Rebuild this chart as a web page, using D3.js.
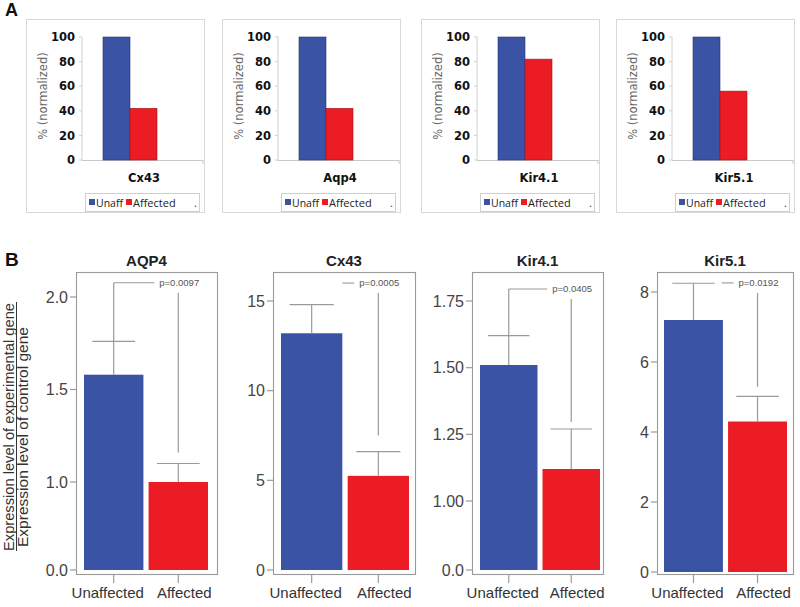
<!DOCTYPE html>
<html><head><meta charset="utf-8">
<script src="https://cdn.jsdelivr.net/npm/d3@7"></script>
<style>body{margin:0;background:#fff}svg{display:block}</style>
</head><body><svg id="c" width="800" height="607"></svg>
<script>
// ---------- DATA ----------
// Panel A
const genesA = ["Cx43", "Aqp4", "Kir4.1", "Kir5.1"];
const groupsA = ["Unaff", "Affected"];
const unaffA = [100, 100, 100, 100];
const affectedA = [42, 42, 82, 56];
const ticksA = [0, 20, 40, 60, 80, 100];

// Panel B
const genesB = ["AQP4", "Cx43", "Kir4.1", "Kir5.1"];
const groupsB = ["Unaffected", "Affected"];
const unaffMean = [1.58, 13.2, 1.51, 7.2];
const unaffUpper = [1.76, 14.8, 1.62, 8.25];
const affMean = [1.0, 5.25, 1.12, 4.3];
const affUpper = [1.10, 6.6, 1.27, 5.02];
const pLabels = ["p=0.0097", "p=0.0005", "p=0.0405", "p=0.0192"];
const bracketLevel = [2.077, 16.0, 1.795, 8.26];
const rightLegEnd = [1.16, 7.5, 1.296, 5.29];
const ticksB = [[0, 1.0, 1.5, 2.0], [0, 5, 10, 15], [0, 1.0, 1.25, 1.5, 1.75], [0, 2, 4, 6, 8]];
const tickLabelsB = [["0.0", "1.0", "1.5", "2.0"], ["0", "5", "10", "15"], ["0.0", "1.00", "1.25", "1.50", "1.75"], ["0", "2", "4", "6", "8"]];
// axis breakpoints (value domain; broken axes in AQP4 and Kir4.1)
const domainsB = [[0, 1, 2], [0, 15], [0, 1, 1.75], [0, 8]];

// ---------- LAYOUT ----------
const BLUE = "#3a53a4", RED = "#ec1c24";
const svg = d3.select("#c");
svg.append("rect").attr("width", 800).attr("height", 607).attr("fill", "#fff");

svg.append("text").attr("x", 5).attr("y", 16).text("A")
  .attr("font-family", "Liberation Sans, Arial, sans-serif").attr("font-weight", "bold").attr("font-size", 18).attr("fill", "#111");
svg.append("text").attr("x", 5).attr("y", 266).text("B")
  .attr("font-family", "Liberation Sans, Arial, sans-serif").attr("font-weight", "bold").attr("font-size", 19).attr("fill", "#111");

// Panel A
const offA = [26, 222, 421, 616];
const fA = "DejaVu Sans, Verdana, sans-serif";
const fL = "Open Sans, Noto Sans, sans-serif";
genesA.forEach((g, i) => {
  const G = svg.append("g").attr("transform", `translate(${offA[i]},0)`);
  G.append("rect").attr("x", 0.5).attr("y", 19.5).attr("width", 178).attr("height", 193)
    .attr("fill", "#fff").attr("stroke", "#d8d8d8");
  const y = d3.scaleLinear().domain([0, 100]).range([160, 37]);
  const x = d3.scaleBand().domain(groupsA).range([77, 131]).padding(0);
  G.append("line").attr("x1", 56).attr("x2", 56).attr("y1", 37).attr("y2", 160).attr("stroke", "#d0d0d0");
  G.append("line").attr("x1", 56).attr("x2", 177).attr("y1", 160.5).attr("y2", 160.5).attr("stroke", "#c8c8c8");
  G.append("line").attr("x1", 177).attr("x2", 177).attr("y1", 160).attr("y2", 164).attr("stroke", "#c8c8c8");
  ticksA.forEach(t => {
    G.append("line").attr("x1", 53).attr("x2", 56).attr("y1", y(t)).attr("y2", y(t)).attr("stroke", "#d0d0d0");
    G.append("text").attr("x", 49).attr("y", y(t)).attr("dy", "0.36em").attr("text-anchor", "end")
      .attr("font-family", fA).attr("font-weight", "bold").attr("font-size", 11.5).attr("fill", "#111").text(t);
  });
  const vals = [unaffA[i], affectedA[i]];
  G.selectAll("rect.bar").data(groupsA).enter().append("rect").attr("class", "bar")
    .attr("x", d => x(d)).attr("width", x.bandwidth())
    .attr("y", (d, j) => y(vals[j])).attr("height", (d, j) => y(0) - y(vals[j]))
    .attr("fill", (d, j) => j ? RED : BLUE)
    .attr("stroke", (d, j) => j ? "#a0141a" : "#26366e").attr("stroke-width", 0.6);
  G.append("text").attr("x", 17).attr("y", 96).attr("transform", "rotate(-90,17,96)")
    .attr("text-anchor", "middle").attr("dy", "0.35em")
    .attr("font-family", fA).attr("font-size", 11.5).attr("fill", "#666").text("% (normalized)");
  G.append("text").attr("x", 118).attr("y", 182).attr("text-anchor", "middle")
    .attr("font-family", fA).attr("font-weight", "bold").attr("font-size", 11.5).attr("fill", "#111").text(g);
  // legend
  G.append("rect").attr("x", 59.5).attr("y", 193.5).attr("width", 114).attr("height", 18)
    .attr("fill", "#fff").attr("stroke", "#cfcfcf");
  G.append("rect").attr("x", 63).attr("y", 199).attr("width", 6).attr("height", 6).attr("fill", BLUE);
  G.append("text").attr("x", 70).attr("y", 206.5).attr("font-family", fL).attr("font-size", 10.5).attr("fill", "#222").text(groupsA[0]);
  G.append("rect").attr("x", 100).attr("y", 199).attr("width", 6).attr("height", 6).attr("fill", RED);
  G.append("text").attr("x", 107).attr("y", 206.5).attr("font-family", fL).attr("font-size", 11).attr("fill", "#222").text(groupsA[1]);
  G.append("text").attr("x", 168).attr("y", 206.5).attr("font-family", fL).attr("font-size", 11).attr("fill", "#444").text(".");
});

// Panel B
const fB = "Liberation Sans, Arial, Helvetica, sans-serif";
const boxB = [[76, 217], [273, 415], [472, 603], [657, 793]];
const barRangeB = [[84, 208], [281, 409], [480, 600], [664, 787]];
const rangesB = [[570, 482, 297], [570, 301], [570, 501, 301], [572, 292]];
const boxTop = 272, boxBot = 574;
const leftLeg = [true, false, true, false];
const dashFromBlue = [true, false, true, false];
const GRAY = "#9a9a9a";

genesB.forEach((g, i) => {
  const G = svg.append("g");
  const [bl, br] = boxB[i];
  const y = d3.scaleLinear().domain(domainsB[i]).range(rangesB[i]);
  const x = d3.scaleBand().domain(groupsB).range(barRangeB[i]).paddingInner(0.08);
  const cx = d => x(d) + x.bandwidth() / 2;
  const means = [unaffMean[i], affMean[i]];
  const uppers = [unaffUpper[i], affUpper[i]];

  G.selectAll("rect.bar").data(groupsB).enter().append("rect")
    .attr("x", d => x(d)).attr("width", x.bandwidth())
    .attr("y", (d, j) => y(means[j])).attr("height", (d, j) => y(0) - y(means[j]))
    .attr("fill", (d, j) => j ? RED : BLUE);
  groupsB.forEach((d, j) => {
    G.append("line").attr("x1", cx(d)).attr("x2", cx(d)).attr("y1", y(means[j])).attr("y2", y(uppers[j]))
      .attr("stroke", GRAY).attr("stroke-width", 1.2);
    const cw = x.bandwidth() * 0.36;
    G.append("line").attr("x1", cx(d) - cw).attr("x2", cx(d) + cw).attr("y1", y(uppers[j])).attr("y2", y(uppers[j]))
      .attr("stroke", GRAY).attr("stroke-width", 1.2);
  });
  const by = y(bracketLevel[i]);
  const rx = cx(groupsB[1]);
  const tx = rx - 19;
  const lx = dashFromBlue[i] ? cx(groupsB[0]) : tx - 17;
  G.append("line").attr("x1", lx).attr("x2", tx - 5).attr("y1", by).attr("y2", by).attr("stroke", GRAY).attr("stroke-width", 1.1);
  if (leftLeg[i]) {
    G.append("line").attr("x1", cx(groupsB[0])).attr("x2", cx(groupsB[0])).attr("y1", by).attr("y2", y(unaffUpper[i]))
      .attr("stroke", GRAY).attr("stroke-width", 1.2);
  }
  G.append("line").attr("x1", rx).attr("x2", rx).attr("y1", by + 10).attr("y2", y(rightLegEnd[i]))
    .attr("stroke", GRAY).attr("stroke-width", 1.2);
  G.append("text").attr("x", tx).attr("y", by).attr("dy", "0.35em")
    .attr("font-family", fB).attr("font-size", 9.5).attr("fill", "#555").text(pLabels[i]);

  G.append("rect").attr("x", bl + 0.5).attr("y", boxTop + 0.5).attr("width", br - bl).attr("height", boxBot - boxTop)
    .attr("fill", "none").attr("stroke", GRAY).attr("stroke-width", 1.1);
  ticksB[i].forEach((t, k) => {
    G.append("line").attr("x1", bl - 6).attr("x2", bl).attr("y1", y(t)).attr("y2", y(t)).attr("stroke", GRAY).attr("stroke-width", 1.2);
    G.append("text").attr("x", bl - 8).attr("y", y(t)).attr("dy", "0.36em").attr("text-anchor", "end")
      .attr("font-family", fB).attr("font-size", 16).attr("fill", "#444").text(tickLabelsB[i][k]);
  });
  groupsB.forEach((d, j) => {
    G.append("line").attr("x1", cx(d)).attr("x2", cx(d)).attr("y1", boxBot).attr("y2", boxBot + 9).attr("stroke", GRAY).attr("stroke-width", 1.2);
    G.append("text").attr("x", cx(d) + (j ? 6 : -6)).attr("y", 598).attr("text-anchor", "middle")
      .attr("font-family", fB).attr("font-size", 15).attr("fill", "#333").text(d);
  });
  G.append("text").attr("x", (bl + br) / 2).attr("y", 266).attr("text-anchor", "middle")
    .attr("font-family", fB).attr("font-weight", "bold").attr("font-size", 15).attr("fill", "#222").text(g);
});

// Y-axis label for panel B (ratio)
const yl = svg.append("g").attr("transform", "translate(0,551) rotate(-90)");
yl.append("text").attr("x", 0).attr("y", 14).attr("font-family", fB).attr("font-size", 15).attr("fill", "#333")
  .attr("textLength", 248).attr("lengthAdjust", "spacingAndGlyphs")
  .text("Expression level of experimental gene");
yl.append("line").attr("x1", 0).attr("x2", 249).attr("y1", 16.5).attr("y2", 16.5).attr("stroke", "#333").attr("stroke-width", 1);
yl.append("text").attr("x", 4).attr("y", 28).attr("font-family", fB).attr("font-size", 15).attr("fill", "#333")
  .attr("textLength", 220).attr("lengthAdjust", "spacingAndGlyphs")
  .text("Expression level of control gene");
</script></body></html>
